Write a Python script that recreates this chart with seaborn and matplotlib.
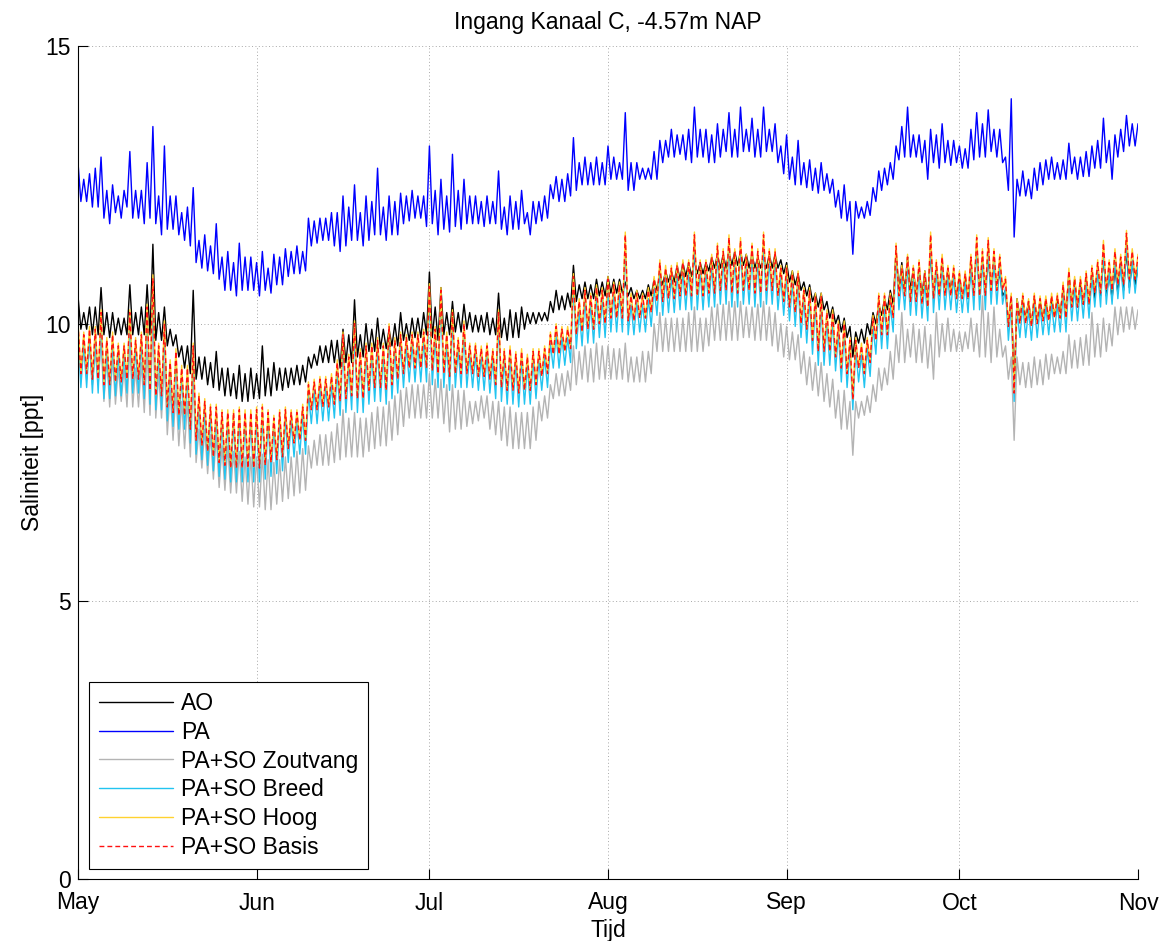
import numpy as np
import pandas as pd
import matplotlib
matplotlib.use("Agg")
import matplotlib.pyplot as plt
import matplotlib.dates as mdates
import seaborn as sns

# ---------------- data: daily high / low values ----------------
start_date = "2012-05-01"
series_labels = ["AO", "PA", "PA+SO Zoutvang", "PA+SO Breed", "PA+SO Hoog", "PA+SO Basis"]
y_ticks = [0, 5, 10, 15]

AO_high = [
    10.5, 10.2, 10.3, 10.3, 10.65, 10.2, 10.2, 10.1, 10.1, 10.7,
    10.2, 10.3, 10.7, 11.43, 10.2, 10.3, 9.9, 9.8, 9.6, 9.6,
    10.6, 9.4, 9.4, 9.3, 9.5, 9.2, 9.2, 9.1, 9.25, 9.1,
    9.2, 9.1, 9.6, 9.2, 9.3, 9.2, 9.2, 9.2, 9.25, 9.25,
    9.4, 9.45, 9.6, 9.6, 9.7, 9.7, 9.9, 9.8, 10.43, 9.8,
    10.0, 9.9, 10.1, 9.9, 9.9, 10.0, 10.2, 10.0, 10.1, 10.1,
    10.2, 10.93, 10.3, 10.65, 10.2, 10.4, 10.2, 10.35, 10.2, 10.15,
    10.15, 10.2, 10.1, 10.55, 10.1, 10.25, 10.2, 10.3, 10.2, 10.2,
    10.2, 10.2, 10.4, 10.6, 10.5, 10.55, 11.05, 10.7, 10.75, 10.7,
    10.8, 10.75, 10.85, 10.8, 10.8, 10.75, 10.65, 10.6, 10.6, 10.7,
    10.8, 10.9, 10.95, 10.95, 11.05, 11.1, 11.1, 11.15, 11.1, 11.1,
    11.2, 11.25, 11.25, 11.3, 11.3, 11.3, 11.25, 11.25, 11.2, 11.2,
    11.25, 11.25, 11.15, 11.1, 10.95, 10.9, 10.75, 10.7, 10.55, 10.55,
    10.4, 10.3, 10.15, 10.1, 9.95, 9.85, 9.9, 10.0, 10.2, 10.35,
    10.45, 10.6, 11.3, 11.1, 11.2, 11.0, 11.0, 10.95, 11.3, 11.0,
    11.1, 11.0, 10.9, 10.85, 10.8, 11.0, 11.4, 11.1, 11.2, 11.1,
    10.9, 10.6, 10.5, 10.45, 10.45, 10.4, 10.45, 10.4, 10.4, 10.45,
    10.45, 10.6, 10.9, 10.8, 10.75, 10.8, 10.9, 10.95, 11.2, 10.9,
    11.0, 11.1, 11.3, 11.1, 11.0,
]
AO_low = [
    9.9, 9.9, 9.8, 9.8, 9.8, 9.75, 9.8, 9.8, 9.8, 9.8,
    9.8, 9.8, 9.8, 9.7, 9.7, 9.6, 9.6, 9.4, 9.2, 9.1,
    9.0, 9.0, 8.9, 8.85, 8.8, 8.7, 8.7, 8.65, 8.6, 8.6,
    8.65, 8.65, 8.7, 8.7, 8.8, 8.8, 8.85, 8.9, 8.9, 8.95,
    9.2, 9.25, 9.3, 9.3, 9.3, 9.2, 9.3, 9.3, 9.4, 9.4,
    9.5, 9.5, 9.55, 9.55, 9.6, 9.6, 9.7, 9.7, 9.75, 9.75,
    9.8, 9.75, 9.7, 9.8, 9.8, 9.85, 9.85, 9.9, 9.85, 9.85,
    9.85, 9.8, 9.8, 9.75, 9.7, 9.75, 9.75, 9.9, 10.0, 10.0,
    10.05, 10.05, 10.2, 10.25, 10.25, 10.3, 10.4, 10.45, 10.45, 10.45,
    10.5, 10.5, 10.55, 10.55, 10.55, 10.5, 10.45, 10.45, 10.45, 10.5,
    10.6, 10.7, 10.75, 10.75, 10.8, 10.85, 10.85, 10.9, 10.9, 10.95,
    11.0, 11.0, 11.0, 11.05, 11.05, 11.05, 11.0, 11.0, 11.0, 11.0,
    11.0, 11.0, 10.9, 10.75, 10.7, 10.6, 10.5, 10.4, 10.3, 10.25,
    10.1, 10.0, 9.85, 9.75, 9.4, 9.65, 9.65, 9.8, 10.0, 10.15,
    10.25, 10.35, 10.6, 10.6, 10.6, 10.5, 10.5, 10.4, 10.5, 10.5,
    10.55, 10.6, 10.5, 10.5, 10.45, 10.55, 10.6, 10.6, 10.6, 10.7,
    10.5, 10.0, 8.9, 10.1, 10.1, 10.0, 10.05, 10.1, 10.1, 10.15,
    10.2, 10.2, 10.3, 10.3, 10.35, 10.35, 10.45, 10.5, 10.5, 10.45,
    10.55, 10.6, 10.65, 10.7, 10.8,
]

PA_high = [
    12.9, 12.6, 12.7, 12.8, 13.0, 12.4, 12.5, 12.3, 12.4, 13.1,
    12.4, 12.4, 12.9, 13.55, 12.3, 13.2, 12.3, 12.3, 12.0, 12.1,
    12.45, 11.5, 11.6, 11.4, 11.8, 11.2, 11.3, 11.1, 11.45, 11.2,
    11.2, 11.1, 11.3, 11.0, 11.25, 11.2, 11.35, 11.3, 11.4, 11.3,
    11.9, 11.85, 11.9, 11.9, 12.0, 12.0, 12.3, 12.1, 12.5, 12.0,
    12.3, 12.2, 12.8, 12.1, 12.3, 12.2, 12.35, 12.3, 12.4, 12.3,
    12.3, 13.2, 12.4, 12.6, 12.3, 13.05, 12.4, 12.6, 12.3, 12.3,
    12.2, 12.3, 12.2, 12.75, 12.1, 12.3, 12.2, 12.4, 12.0, 12.2,
    12.2, 12.3, 12.5, 12.65, 12.6, 12.7, 13.35, 12.9, 13.0, 12.9,
    13.0, 12.9, 13.2, 13.0, 12.9, 13.8, 12.9, 12.9, 12.8, 12.8,
    13.1, 13.3, 13.3, 13.5, 13.4, 13.4, 13.5, 13.9, 13.5, 13.5,
    13.4, 13.6, 13.5, 13.8, 13.5, 13.9, 13.5, 13.7, 13.5, 13.9,
    13.5, 13.6, 13.2, 13.4, 13.0, 13.3, 12.9, 12.95, 12.8, 12.9,
    12.7, 12.6, 12.4, 12.5, 12.2, 12.2, 12.1, 12.2, 12.45, 12.75,
    12.8, 12.9, 13.2, 13.55, 13.9, 13.4, 13.4, 13.3, 13.5, 13.4,
    13.6, 13.3, 13.3, 13.2, 13.15, 13.5, 13.8, 13.6, 13.85, 13.5,
    13.5, 13.0, 14.05, 12.6, 12.75, 12.6, 12.8, 12.9, 12.95, 13.0,
    12.9, 12.95, 13.25, 13.0, 13.0, 13.1, 13.2, 13.3, 13.7, 13.3,
    13.4, 13.5, 13.75, 13.6, 13.6,
]
PA_low = [
    12.2, 12.2, 12.1, 12.1, 11.9, 11.8, 12.0, 11.9, 12.1, 11.9,
    11.9, 11.8, 11.9, 11.8, 11.6, 11.7, 11.7, 11.6, 11.5, 11.4,
    11.1, 11.0, 10.95, 10.9, 10.8, 10.6, 10.6, 10.5, 10.6, 10.6,
    10.6, 10.5, 10.6, 10.55, 10.7, 10.7, 10.85, 10.9, 10.9, 10.95,
    11.4, 11.45, 11.5, 11.5, 11.4, 11.3, 11.4, 11.5, 11.5, 11.4,
    11.5, 11.6, 11.6, 11.5, 11.6, 11.6, 11.8, 11.85, 11.9, 11.9,
    11.75, 11.8, 11.6, 11.7, 11.65, 11.75, 11.7, 11.8, 11.8, 11.8,
    11.75, 11.8, 11.8, 11.7, 11.6, 11.7, 11.7, 11.8, 11.6, 11.8,
    11.85, 11.9, 12.25, 12.2, 12.2, 12.3, 12.4, 12.5, 12.5, 12.5,
    12.5, 12.5, 12.6, 12.6, 12.6, 12.4, 12.4, 12.6, 12.6, 12.6,
    12.6, 12.9, 13.0, 13.0, 13.05, 12.95, 12.9, 13.0, 13.0, 12.9,
    12.9, 13.0, 13.1, 13.0, 13.0, 13.1, 13.1, 13.0, 13.0, 13.1,
    13.1, 12.9, 12.7, 12.6, 12.5, 12.5, 12.45, 12.4, 12.35, 12.4,
    12.35, 12.1, 11.9, 11.85, 11.25, 11.9, 11.9, 11.95, 12.2, 12.4,
    12.5, 12.6, 12.95, 13.0, 13.0, 13.0, 12.9, 12.6, 12.9, 12.8,
    12.9, 12.85, 12.9, 12.8, 12.8, 12.95, 13.0, 13.0, 13.1, 13.0,
    12.9, 12.4, 11.56, 12.3, 12.3, 12.25, 12.4, 12.5, 12.6, 12.6,
    12.6, 12.6, 12.7, 12.6, 12.65, 12.65, 12.8, 12.8, 12.9, 12.6,
    13.0, 13.1, 13.2, 13.2, 13.4,
]

Zoutvang_high = [
    9.8, 9.6, 9.6, 9.5, 9.7, 9.4, 9.4, 9.2, 9.2, 9.6,
    9.2, 9.3, 9.5, 10.0, 9.1, 9.3, 8.8, 8.8, 8.6, 8.6,
    9.0, 8.1, 8.1, 8.0, 8.0, 7.8, 7.8, 7.7, 7.7, 7.6,
    7.6, 7.6, 7.65, 7.55, 7.5, 7.55, 7.6, 7.6, 7.7, 7.75,
    7.8, 7.9, 8.0, 8.0, 8.05, 8.2, 8.45, 8.3, 8.4, 8.3,
    8.3, 8.4, 8.5, 8.5, 8.6, 8.7, 8.8, 8.85, 8.9, 8.9,
    8.9, 9.1, 9.0, 9.0, 8.9, 8.9, 8.8, 8.8, 8.6, 8.6,
    8.7, 8.7, 8.6, 8.6, 8.5, 8.5, 8.4, 8.4, 8.4, 8.5,
    8.6, 8.7, 8.9, 9.1, 9.1, 9.15, 9.6, 9.5, 9.6, 9.55,
    9.65, 9.6, 9.6, 9.55, 9.55, 9.65, 9.4, 9.4, 9.5, 9.5,
    10.0, 10.2, 10.1, 10.1, 10.1, 10.1, 10.2, 10.3, 10.1, 10.1,
    10.3, 10.35, 10.35, 10.4, 10.4, 10.4, 10.3, 10.3, 10.35, 10.4,
    10.3, 10.2, 10.0, 9.95, 9.85, 9.8, 9.5, 9.4, 9.3, 9.3,
    9.1, 9.0, 8.8, 8.8, 8.6, 8.6, 8.6, 8.7, 8.9, 9.2,
    9.2, 9.5, 9.8, 10.2, 9.9, 10.0, 9.9, 9.95, 9.8, 10.2,
    10.0, 10.1, 9.9, 9.85, 9.85, 10.1, 10.0, 10.5, 10.2, 10.3,
    9.9, 9.6, 9.4, 9.4, 9.3, 9.3, 9.4, 9.35, 9.45, 9.45,
    9.4, 9.5, 9.8, 9.7, 9.75, 9.8, 10.2, 10.0, 10.1, 10.0,
    10.3, 10.3, 10.3, 10.3, 10.25,
]
Zoutvang_low = [
    9.0, 9.0, 8.9, 8.9, 8.6, 8.5, 8.55, 8.6, 8.5, 8.5,
    8.5, 8.4, 8.35, 8.3, 8.3, 8.0, 7.9, 7.8, 7.75, 7.6,
    7.5, 7.4, 7.3, 7.2, 7.05, 7.0, 6.95, 6.95, 6.8, 6.75,
    6.7, 6.7, 6.65, 6.65, 6.75, 6.8, 6.85, 6.9, 6.95, 7.0,
    7.4, 7.45, 7.45, 7.45, 7.5, 7.55, 7.6, 7.6, 7.6, 7.6,
    7.7, 7.75, 7.8, 7.8, 7.9, 8.0, 8.15, 8.3, 8.3, 8.3,
    8.3, 8.3, 8.3, 8.2, 8.05, 8.1, 8.1, 8.15, 8.2, 8.25,
    8.3, 8.1, 8.0, 7.9, 7.8, 7.75, 7.75, 7.75, 7.75, 7.9,
    8.25, 8.3, 8.65, 8.7, 8.7, 8.8, 8.9, 9.0, 8.95, 8.95,
    9.0, 9.0, 9.0, 9.0, 9.0, 8.95, 8.95, 8.95, 8.95, 9.1,
    9.5, 9.5, 9.5, 9.5, 9.5, 9.5, 9.5, 9.5, 9.5, 9.6,
    9.7, 9.7, 9.7, 9.7, 9.7, 9.75, 9.75, 9.7, 9.7, 9.7,
    9.6, 9.5, 9.4, 9.35, 9.35, 9.1, 8.9, 8.8, 8.7, 8.6,
    8.5, 8.3, 8.1, 8.1, 7.63, 8.3, 8.35, 8.4, 8.6, 8.8,
    8.9, 9.0, 9.3, 9.3, 9.4, 9.3, 9.3, 9.2, 9.0, 9.4,
    9.5, 9.5, 9.5, 9.5, 9.55, 9.5, 9.4, 9.4, 9.3, 9.4,
    9.4, 9.0, 7.9, 8.9, 8.85, 8.85, 8.9, 8.9, 9.0, 9.1,
    9.1, 9.1, 9.2, 9.2, 9.25, 9.25, 9.4, 9.4, 9.5, 9.6,
    9.8, 9.85, 9.9, 9.9, 9.95,
]

Breed_high = [
    9.85, 9.65, 9.75, 9.75, 10.05, 9.55, 9.65, 9.45, 9.45, 10.05,
    9.55, 9.65, 10.15, 10.65, 9.45, 9.85, 9.15, 9.35, 9.05, 9.05,
    9.45, 8.55, 8.45, 8.35, 8.35, 8.25, 8.25, 8.25, 8.3, 8.25,
    8.25, 8.3, 8.35, 8.25, 8.15, 8.25, 8.3, 8.25, 8.25, 8.35,
    8.75, 8.8, 8.85, 8.85, 8.9, 9.15, 9.65, 9.25, 9.85, 9.35,
    9.45, 9.45, 9.55, 9.45, 9.8, 9.55, 9.65, 9.6, 9.65, 9.65,
    9.7, 10.52, 9.75, 10.45, 9.65, 10.05, 9.55, 9.85, 9.45, 9.45,
    9.4, 9.45, 9.35, 10.05, 9.35, 9.4, 9.3, 9.35, 9.25, 9.35,
    9.35, 9.4, 9.65, 9.8, 9.75, 9.75, 10.7, 10.25, 10.45, 10.35,
    10.5, 10.45, 10.65, 10.55, 10.55, 11.45, 10.35, 10.4, 10.35, 10.45,
    10.65, 10.95, 10.85, 10.85, 10.9, 10.95, 10.95, 11.45, 10.95, 10.95,
    11.05, 11.25, 11.15, 11.4, 11.15, 11.35, 11.05, 11.25, 11.15, 11.45,
    11.15, 11.15, 10.85, 10.85, 10.75, 10.75, 10.45, 10.45, 10.35, 10.35,
    10.05, 10.05, 9.85, 9.85, 9.55, 9.55, 9.45, 9.55, 9.95, 10.35,
    10.35, 10.35, 11.25, 10.85, 11.05, 10.85, 10.95, 10.75, 11.45, 10.95,
    11.05, 10.85, 10.85, 10.75, 10.75, 11.05, 11.4, 11.15, 11.35, 11.15,
    11.05, 10.65, 10.35, 10.25, 10.35, 10.25, 10.35, 10.3, 10.3, 10.35,
    10.35, 10.55, 10.8, 10.65, 10.65, 10.75, 10.85, 10.95, 11.3, 10.95,
    11.15, 11.05, 11.45, 11.15, 11.05,
]
Breed_low = [
    8.85, 8.85, 8.75, 8.75, 8.65, 8.65, 8.7, 8.7, 8.75, 8.75,
    8.75, 8.65, 8.55, 8.45, 8.45, 8.25, 8.15, 8.1, 8.1, 7.85,
    7.65, 7.55, 7.45, 7.35, 7.25, 7.2, 7.15, 7.15, 7.15, 7.15,
    7.15, 7.15, 7.2, 7.25, 7.3, 7.35, 7.5, 7.6, 7.65, 7.65,
    8.2, 8.2, 8.25, 8.25, 8.3, 8.35, 8.4, 8.45, 8.4, 8.4,
    8.55, 8.6, 8.6, 8.55, 8.65, 8.75, 8.85, 8.95, 8.95, 8.95,
    8.95, 8.9, 8.85, 8.85, 8.8, 8.85, 8.85, 8.85, 8.85, 8.8,
    8.8, 8.75, 8.65, 8.6, 8.55, 8.55, 8.5, 8.55, 8.55, 8.65,
    8.8, 8.85, 9.2, 9.2, 9.25, 9.3, 9.55, 9.6, 9.65, 9.65,
    9.75, 9.75, 9.85, 9.85, 9.85, 9.8, 9.8, 9.85, 9.85, 9.95,
    10.15, 10.15, 10.2, 10.2, 10.25, 10.25, 10.25, 10.25, 10.25, 10.3,
    10.3, 10.35, 10.35, 10.3, 10.3, 10.35, 10.35, 10.3, 10.3, 10.35,
    10.35, 10.25, 10.15, 10.05, 9.95, 9.75, 9.65, 9.45, 9.25, 9.25,
    9.25, 9.15, 8.95, 8.85, 8.45, 8.95, 8.85, 9.05, 9.45, 9.55,
    9.55, 9.85, 10.25, 10.25, 10.15, 10.15, 10.1, 10.05, 10.2, 10.25,
    10.25, 10.25, 10.2, 10.2, 10.2, 10.25, 10.25, 10.25, 10.35, 10.35,
    10.35, 9.7, 8.6, 9.75, 9.75, 9.7, 9.75, 9.8, 9.8, 9.85,
    9.85, 9.85, 10.05, 10.05, 10.1, 10.1, 10.3, 10.3, 10.35, 10.35,
    10.45, 10.45, 10.55, 10.55, 10.65,
]

Hoog_high = [
    10.05, 9.85, 9.95, 9.95, 10.25, 9.75, 9.85, 9.65, 9.65, 10.25,
    9.75, 9.85, 10.35, 10.88, 9.65, 10.05, 9.35, 9.55, 9.25, 9.25,
    9.65, 8.75, 8.65, 8.55, 8.55, 8.45, 8.45, 8.45, 8.5, 8.45,
    8.45, 8.5, 8.55, 8.45, 8.35, 8.45, 8.5, 8.45, 8.45, 8.55,
    8.95, 9.0, 9.05, 9.05, 9.1, 9.35, 9.85, 9.45, 10.05, 9.55,
    9.65, 9.65, 9.75, 9.65, 10.0, 9.75, 9.85, 9.8, 9.85, 9.85,
    9.9, 10.72, 9.95, 10.65, 9.85, 10.25, 9.75, 10.05, 9.65, 9.65,
    9.6, 9.65, 9.55, 10.25, 9.55, 9.6, 9.5, 9.55, 9.45, 9.55,
    9.55, 9.6, 9.85, 10.0, 9.95, 9.95, 10.9, 10.45, 10.65, 10.55,
    10.7, 10.65, 10.85, 10.75, 10.75, 11.65, 10.55, 10.6, 10.55, 10.65,
    10.85, 11.15, 11.05, 11.05, 11.1, 11.15, 11.15, 11.65, 11.15, 11.15,
    11.25, 11.45, 11.35, 11.6, 11.35, 11.55, 11.25, 11.45, 11.35, 11.65,
    11.35, 11.35, 11.05, 11.05, 10.95, 10.95, 10.65, 10.65, 10.55, 10.55,
    10.25, 10.25, 10.05, 10.05, 9.75, 9.75, 9.65, 9.75, 10.15, 10.55,
    10.55, 10.55, 11.45, 11.05, 11.25, 11.05, 11.15, 10.95, 11.65, 11.15,
    11.25, 11.05, 11.05, 10.95, 10.95, 11.25, 11.6, 11.35, 11.55, 11.35,
    11.25, 10.85, 10.55, 10.45, 10.55, 10.45, 10.55, 10.5, 10.5, 10.55,
    10.55, 10.75, 11.0, 10.85, 10.85, 10.95, 11.05, 11.15, 11.5, 11.15,
    11.35, 11.25, 11.68, 11.35, 11.25,
]
Hoog_low = [
    9.12, 9.12, 9.02, 9.02, 8.92, 8.92, 8.97, 8.97, 9.02, 9.02,
    9.02, 8.92, 8.82, 8.72, 8.72, 8.52, 8.42, 8.37, 8.37, 8.12,
    7.92, 7.82, 7.72, 7.62, 7.52, 7.47, 7.42, 7.42, 7.42, 7.42,
    7.42, 7.42, 7.47, 7.52, 7.57, 7.62, 7.77, 7.87, 7.92, 7.92,
    8.47, 8.47, 8.52, 8.52, 8.57, 8.62, 8.67, 8.72, 8.67, 8.67,
    8.82, 8.87, 8.87, 8.82, 8.92, 9.02, 9.12, 9.22, 9.22, 9.22,
    9.22, 9.17, 9.12, 9.12, 9.07, 9.12, 9.12, 9.12, 9.12, 9.07,
    9.07, 9.02, 8.92, 8.87, 8.82, 8.82, 8.77, 8.82, 8.82, 8.92,
    9.07, 9.12, 9.47, 9.47, 9.52, 9.57, 9.82, 9.87, 9.92, 9.92,
    10.02, 10.02, 10.12, 10.12, 10.12, 10.07, 10.07, 10.12, 10.12, 10.22,
    10.42, 10.42, 10.47, 10.47, 10.52, 10.52, 10.52, 10.52, 10.52, 10.57,
    10.57, 10.62, 10.62, 10.57, 10.57, 10.62, 10.62, 10.57, 10.57, 10.62,
    10.62, 10.52, 10.42, 10.32, 10.22, 10.02, 9.92, 9.72, 9.52, 9.52,
    9.52, 9.42, 9.22, 9.12, 8.65, 9.22, 9.12, 9.32, 9.72, 9.82,
    9.82, 10.12, 10.52, 10.52, 10.42, 10.42, 10.37, 10.32, 10.47, 10.52,
    10.52, 10.52, 10.47, 10.47, 10.47, 10.52, 10.52, 10.52, 10.62, 10.62,
    10.62, 9.97, 8.77, 10.02, 10.02, 9.97, 10.02, 10.07, 10.07, 10.12,
    10.12, 10.12, 10.32, 10.32, 10.37, 10.37, 10.57, 10.57, 10.62, 10.62,
    10.72, 10.72, 10.82, 10.82, 10.92,
]

Basis_high = [
    10.0, 9.8, 9.9, 9.9, 10.2, 9.7, 9.8, 9.6, 9.6, 10.2,
    9.7, 9.8, 10.3, 10.82, 9.6, 10.0, 9.3, 9.5, 9.2, 9.2,
    9.6, 8.7, 8.6, 8.5, 8.5, 8.4, 8.4, 8.4, 8.45, 8.4,
    8.4, 8.45, 8.5, 8.4, 8.3, 8.4, 8.45, 8.4, 8.4, 8.5,
    8.9, 8.95, 9.0, 9.0, 9.05, 9.3, 9.8, 9.4, 10.0, 9.5,
    9.6, 9.6, 9.7, 9.6, 9.95, 9.7, 9.8, 9.75, 9.8, 9.8,
    9.85, 10.67, 9.9, 10.6, 9.8, 10.2, 9.7, 10.0, 9.6, 9.6,
    9.55, 9.6, 9.5, 10.2, 9.5, 9.55, 9.45, 9.5, 9.4, 9.5,
    9.5, 9.55, 9.8, 9.95, 9.9, 9.9, 10.85, 10.4, 10.6, 10.5,
    10.65, 10.6, 10.8, 10.7, 10.7, 11.6, 10.5, 10.55, 10.5, 10.6,
    10.8, 11.1, 11.0, 11.0, 11.05, 11.1, 11.1, 11.6, 11.1, 11.1,
    11.2, 11.4, 11.3, 11.55, 11.3, 11.5, 11.2, 11.4, 11.3, 11.6,
    11.3, 11.3, 11.0, 11.0, 10.9, 10.9, 10.6, 10.6, 10.5, 10.5,
    10.2, 10.2, 10.0, 10.0, 9.7, 9.7, 9.6, 9.7, 10.1, 10.5,
    10.5, 10.5, 11.4, 11.0, 11.2, 11.0, 11.1, 10.9, 11.6, 11.1,
    11.2, 11.0, 11.0, 10.9, 10.9, 11.2, 11.55, 11.3, 11.5, 11.3,
    11.2, 10.8, 10.5, 10.4, 10.5, 10.4, 10.5, 10.45, 10.45, 10.5,
    10.5, 10.7, 10.95, 10.8, 10.8, 10.9, 11.0, 11.1, 11.45, 11.1,
    11.3, 11.2, 11.63, 11.3, 11.2,
]
Basis_low = [
    9.1, 9.1, 9.0, 9.0, 8.9, 8.9, 8.95, 8.95, 9.0, 9.0,
    9.0, 8.9, 8.8, 8.7, 8.7, 8.5, 8.4, 8.35, 8.35, 8.1,
    7.9, 7.8, 7.7, 7.6, 7.5, 7.45, 7.4, 7.4, 7.4, 7.4,
    7.4, 7.4, 7.45, 7.5, 7.55, 7.6, 7.75, 7.85, 7.9, 7.9,
    8.45, 8.45, 8.5, 8.5, 8.55, 8.6, 8.65, 8.7, 8.65, 8.65,
    8.8, 8.85, 8.85, 8.8, 8.9, 9.0, 9.1, 9.2, 9.2, 9.2,
    9.2, 9.15, 9.1, 9.1, 9.05, 9.1, 9.1, 9.1, 9.1, 9.05,
    9.05, 9.0, 8.9, 8.85, 8.8, 8.8, 8.75, 8.8, 8.8, 8.9,
    9.05, 9.1, 9.45, 9.45, 9.5, 9.55, 9.8, 9.85, 9.9, 9.9,
    10.0, 10.0, 10.1, 10.1, 10.1, 10.05, 10.05, 10.1, 10.1, 10.2,
    10.4, 10.4, 10.45, 10.45, 10.5, 10.5, 10.5, 10.5, 10.5, 10.55,
    10.55, 10.6, 10.6, 10.55, 10.55, 10.6, 10.6, 10.55, 10.55, 10.6,
    10.6, 10.5, 10.4, 10.3, 10.2, 10.0, 9.9, 9.7, 9.5, 9.5,
    9.5, 9.4, 9.2, 9.1, 8.63, 9.2, 9.1, 9.3, 9.7, 9.8,
    9.8, 10.1, 10.5, 10.5, 10.4, 10.4, 10.35, 10.3, 10.45, 10.5,
    10.5, 10.5, 10.45, 10.45, 10.45, 10.5, 10.5, 10.5, 10.6, 10.6,
    10.6, 9.95, 8.75, 10.0, 10.0, 9.95, 10.0, 10.05, 10.05, 10.1,
    10.1, 10.1, 10.3, 10.3, 10.35, 10.35, 10.55, 10.55, 10.6, 10.6,
    10.7, 10.7, 10.8, 10.8, 10.9,
]

# ---------------- plotting ----------------
sns.set_theme(style="white")
plt.rcParams["font.family"] = ["Liberation Sans", "DejaVu Sans"]
plt.rcParams.update({"text.color": "black", "axes.labelcolor": "black",
                     "xtick.color": "black", "ytick.color": "black"})

FS = 16.5
dates = pd.date_range(start_date, periods=len(AO_high), freq="D")
half = pd.Timedelta(hours=12)

fig = plt.figure(figsize=(11.72, 9.41), dpi=100)
ax = fig.add_axes([78 / 1172, 62 / 941, 1060 / 1172, 833 / 941])

highs = [AO_high, PA_high, Zoutvang_high, Breed_high, Hoog_high, Basis_high]
lows = [AO_low, PA_low, Zoutvang_low, Breed_low, Hoog_low, Basis_low]
colors = ["#000000", "#0000ff", "#b4b4b4", "#22c4f0", "#ffd230", "#ff1010"]

for lab, hi, lo, col in zip(series_labels, highs, lows, colors):
    df = pd.DataFrame({"t": list(dates) + list(dates + half), "v": hi + lo})
    df = df.sort_values("t")
    sns.lineplot(data=df, x="t", y="v", ax=ax, color=col, lw=1.0, label=lab,
                 estimator=None, sort=False)
ax.lines[-1].set_dashes((3.5, 2.2))

ax.set_xlim(dates[0], dates[-1])
ax.set_ylim(0, 15)
ax.set_yticks(y_ticks)
ax.xaxis.set_major_locator(mdates.MonthLocator())
ax.xaxis.set_major_formatter(mdates.DateFormatter("%b"))

ax.grid(True, linestyle=(0, (1, 2.5)), color="#a8a8a8", lw=0.7)
for s in ["top", "right"]:
    ax.spines[s].set_visible(False)
for s in ["left", "bottom"]:
    ax.spines[s].set_color("black")
    ax.spines[s].set_linewidth(0.8)
ax.tick_params(direction="in", length=7, width=0.8, labelsize=FS,
               colors="black", bottom=True, left=True)
ax.tick_params(axis="y", pad=5)
ax.tick_params(axis="x", pad=9)

ax.set_title("Ingang Kanaal C, -4.57m NAP", fontsize=FS, pad=12)
ax.set_xlabel("Tijd", fontsize=FS, labelpad=3)
ax.set_ylabel("Saliniteit [ppt]", fontsize=FS, labelpad=1)

handles, labels = ax.get_legend_handles_labels()
leg = ax.legend(handles, labels, loc="lower left", bbox_to_anchor=(0.0104, 0.012),
                borderaxespad=0, fontsize=FS, handlelength=3.25, labelspacing=0.26,
                frameon=True, fancybox=False, framealpha=1, edgecolor="black",
                borderpad=0.42, handletextpad=0.35)
leg.get_frame().set_linewidth(0.8)

fig.savefig("out.png", dpi=100)
